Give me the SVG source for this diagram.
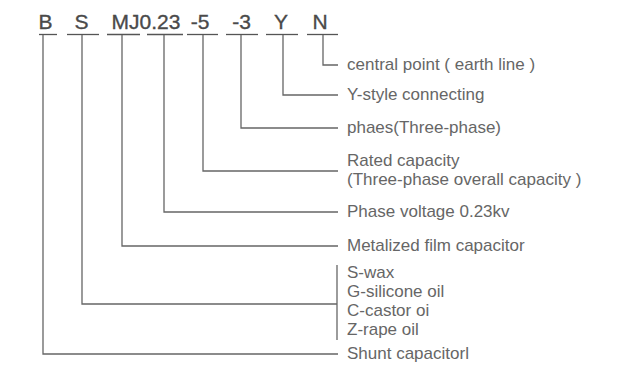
<svg xmlns="http://www.w3.org/2000/svg" width="620" height="373" viewBox="0 0 620 373">
<style>
.hd{font-family:"Liberation Sans",Arial,sans-serif;font-size:21px;fill:#4a4a4a;stroke:#4a4a4a;stroke-width:0.35;text-anchor:middle}
.lb{font-family:"Liberation Sans",Arial,sans-serif;font-size:17px;fill:#666}
.ln{fill:none;stroke:#666;stroke-width:1.3}
.ul{stroke:#555;stroke-width:1.3}
</style>
<rect width="620" height="373" fill="#fff"/>
<g id="header">
<text class="hd" x="45.5" y="29">B</text>
<text class="hd" x="81.5" y="29">S</text>
<text class="hd" x="146" y="29">MJ0.23</text>
<text class="hd" x="200" y="29">-5</text>
<text class="hd" x="241.5" y="29">-3</text>
<text class="hd" x="281" y="29">Y</text>
<text class="hd" x="320" y="29">N</text>
<line class="ul" x1="39" y1="34.5" x2="57" y2="34.5"/>
<line class="ul" x1="67" y1="34.5" x2="99" y2="34.5"/>
<line class="ul" x1="107" y1="34.5" x2="140" y2="34.5"/>
<line class="ul" x1="147" y1="34.5" x2="183" y2="34.5"/>
<line class="ul" x1="187" y1="34.5" x2="218" y2="34.5"/>
<line class="ul" x1="226" y1="34.5" x2="258" y2="34.5"/>
<line class="ul" x1="266" y1="34.5" x2="298" y2="34.5"/>
<line class="ul" x1="307" y1="34.5" x2="338" y2="34.5"/>
</g>
<g id="connectors">
<path class="ln" d="M43 35V354H338"/>
<path class="ln" d="M82 35V304H337"/>
<path class="ln" d="M122 35V246H338"/>
<path class="ln" d="M164 35V212H338"/>
<path class="ln" d="M203 35V171H338"/>
<path class="ln" d="M241 35V128H338"/>
<path class="ln" d="M283 35V95H338"/>
<path class="ln" d="M323 35V65H338"/>
<path class="ln" d="M337 265V340"/>
</g>
<g id="n-N"><text class="lb" x="347" y="70">central point ( earth line )</text></g>
<g id="n-Y"><text class="lb" x="347" y="100">Y-style connecting</text></g>
<g id="n-3"><text class="lb" x="347" y="133">phaes(Three-phase)</text></g>
<g id="n-5"><text class="lb" x="347" y="166">Rated capacity</text><text class="lb" x="347" y="185">(Three-phase overall capacity )</text></g>
<g id="n-023"><text class="lb" x="347" y="217">Phase voltage 0.23kv</text></g>
<g id="n-MJ"><text class="lb" x="347" y="251">Metalized film capacitor</text></g>
<g id="n-S"><text class="lb" x="347" y="278">S-wax</text><text class="lb" x="347" y="297">G-silicone oil</text><text class="lb" x="347" y="316">C-castor oi</text><text class="lb" x="347" y="335">Z-rape oil</text></g>
<g id="n-B"><text class="lb" x="347" y="359">Shunt capacitorl</text></g>
</svg>
